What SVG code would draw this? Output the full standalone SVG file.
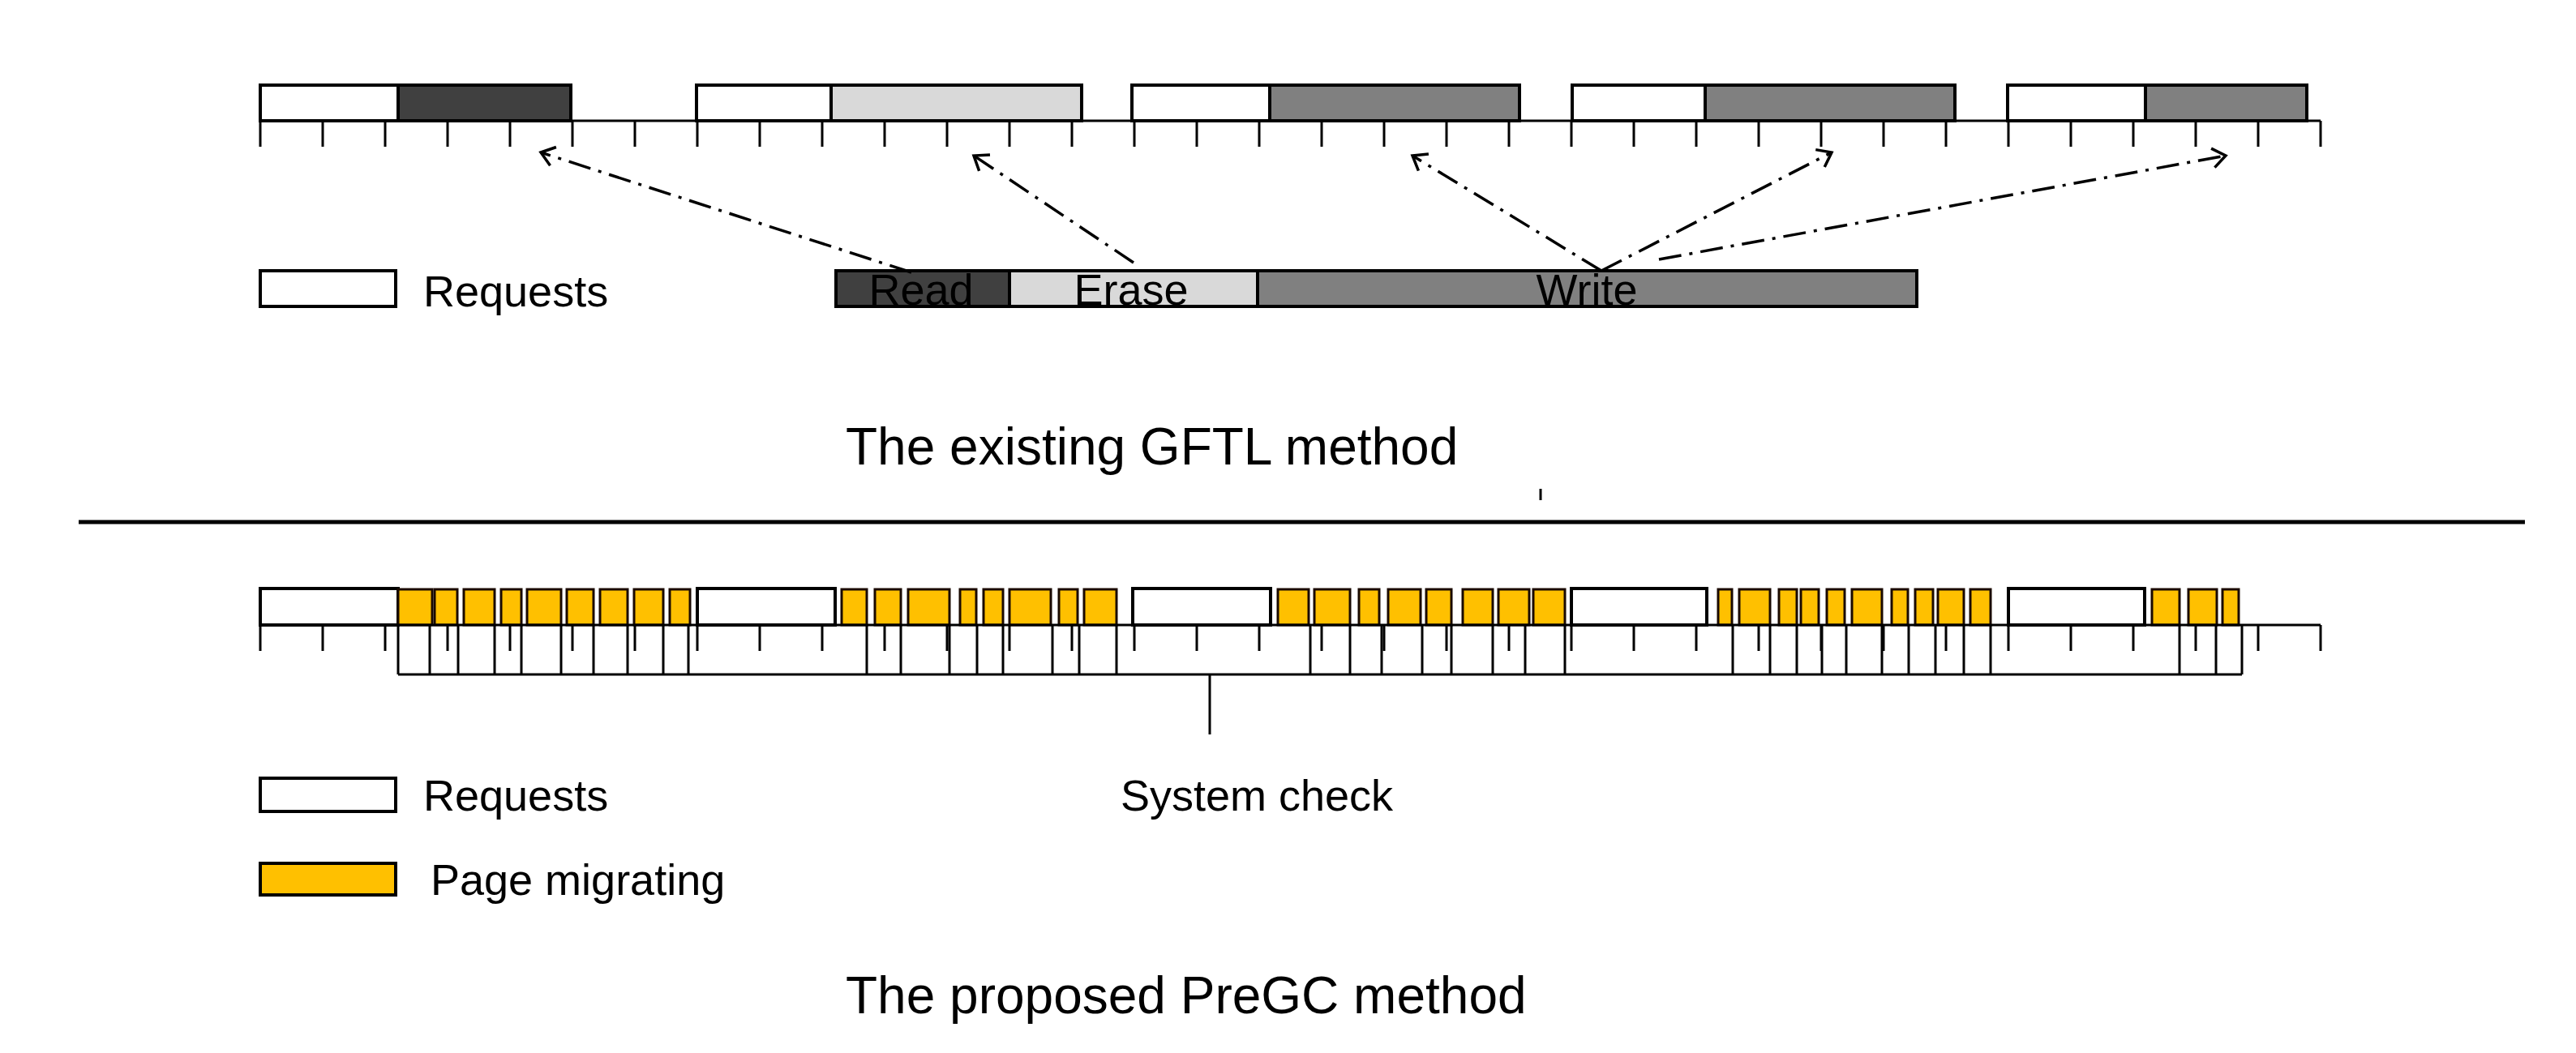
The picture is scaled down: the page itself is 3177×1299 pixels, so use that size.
<svg xmlns="http://www.w3.org/2000/svg" width="3177" height="1299" viewBox="0 0 3177 1299">
<style>
.b{stroke:#000;stroke-width:4}
.t{font-family:"Liberation Sans",Arial,sans-serif;font-size:54px;fill:#000}
.big{font-family:"Liberation Sans",Arial,sans-serif;font-size:64px;fill:#000}
.ln{stroke:#000;stroke-width:3;fill:none}
.y{fill:#ffc000;stroke:#1a0a00;stroke-width:3}
.con{stroke:#000;stroke-width:3.5;fill:none;stroke-dasharray:28 10 4 10}
</style>
<defs>
<marker id="ah" markerUnits="userSpaceOnUse" markerWidth="40" markerHeight="40" refX="20" refY="20" orient="auto" viewBox="0 0 40 40">
<path d="M4,8 L20,20 L4,32" fill="none" stroke="#000" stroke-width="3.5"/>
</marker>
</defs>
<rect width="3177" height="1299" fill="#fff"/>
<g id="top-timeline">
<rect class="b" x="321" y="105" width="170" height="44" fill="#fff"/>
<rect class="b" x="491" y="105" width="213" height="44" fill="#404040"/>
<rect class="b" x="859" y="105" width="166" height="44" fill="#fff"/>
<rect class="b" x="1025" y="105" width="309" height="44" fill="#d9d9d9"/>
<rect class="b" x="1396" y="105" width="170" height="44" fill="#fff"/>
<rect class="b" x="1566" y="105" width="308" height="44" fill="#808080"/>
<rect class="b" x="1939" y="105" width="164" height="44" fill="#fff"/>
<rect class="b" x="2103" y="105" width="308" height="44" fill="#808080"/>
<rect class="b" x="2476" y="105" width="170" height="44" fill="#fff"/>
<rect class="b" x="2646" y="105" width="199" height="44" fill="#808080"/>
<path class="ln" d="M321,149H2862 M321,149V181 M398,149V181 M475,149V181 M552,149V181 M629,149V181 M706,149V181 M783,149V181 M860,149V181 M937,149V181 M1014,149V181 M1091,149V181 M1168,149V181 M1245,149V181 M1322,149V181 M1399,149V181 M1476,149V181 M1553,149V181 M1630,149V181 M1707,149V181 M1784,149V181 M1861,149V181 M1938,149V181 M2015,149V181 M2092,149V181 M2169,149V181 M2246,149V181 M2323,149V181 M2400,149V181 M2477,149V181 M2554,149V181 M2631,149V181 M2708,149V181 M2785,149V181 M2862,149V181"/>
</g>
<g id="legend-top">
<rect class="b" x="321" y="334" width="167" height="44" fill="#fff"/>
<text class="t" x="522" y="378">Requests</text>
</g>
<g id="rew-bar">
<rect class="b" x="1031" y="334" width="214" height="44" fill="#404040"/>
<rect class="b" x="1245" y="334" width="306" height="44" fill="#d9d9d9"/>
<rect class="b" x="1551" y="334" width="813" height="44" fill="#808080"/>
<text class="t" x="1136" y="376" text-anchor="middle">Read</text>
<text class="t" x="1395" y="376" text-anchor="middle">Erase</text>
<text class="t" x="1957" y="376" text-anchor="middle">Write</text>
</g>
<g id="connectors">
<path class="con" d="M1124,336L667,188" marker-end="url(#ah)"/>
<path class="con" d="M1398,324L1201,192" marker-end="url(#ah)"/>
<path class="con" d="M1975,334L1742,192" marker-end="url(#ah)"/>
<path class="con" d="M1975,334L2259,188" marker-end="url(#ah)"/>
<path class="con" d="M2046,320L2745,192" marker-end="url(#ah)"/>
</g>
<text class="big" x="1043" y="573">The existing GFTL method</text>
<path class="ln" d="M1900,603V617"/>
<path d="M97,644H3114" stroke="#000" stroke-width="5"/>
<g id="bottom-timeline">
<rect class="b" x="321" y="726" width="170" height="45" fill="#fff"/>
<rect class="b" x="860" y="726" width="170" height="45" fill="#fff"/>
<rect class="b" x="1397" y="726" width="170" height="45" fill="#fff"/>
<rect class="b" x="1938" y="726" width="167" height="45" fill="#fff"/>
<rect class="b" x="2477" y="726" width="168" height="45" fill="#fff"/>
<g id="migrations">
<rect class="y" x="491" y="727" width="42" height="44" fill="#d9a520"/>
<rect class="y" x="536" y="727" width="28" height="44"/>
<rect class="y" x="572" y="727" width="38" height="44"/>
<rect class="y" x="618" y="727" width="25" height="44"/>
<rect class="y" x="650" y="727" width="42" height="44"/>
<rect class="y" x="699" y="727" width="33" height="44"/>
<rect class="y" x="740" y="727" width="34" height="44"/>
<rect class="y" x="782" y="727" width="36" height="44"/>
<rect class="y" x="826" y="727" width="25" height="44"/>
<rect class="y" x="1038" y="727" width="31" height="44"/>
<rect class="y" x="1079" y="727" width="32" height="44"/>
<rect class="y" x="1120" y="727" width="51" height="44"/>
<rect class="y" x="1184" y="727" width="20" height="44"/>
<rect class="y" x="1213" y="727" width="24" height="44"/>
<rect class="y" x="1245" y="727" width="51" height="44"/>
<rect class="y" x="1306" y="727" width="23" height="44"/>
<rect class="y" x="1337" y="727" width="40" height="44"/>
<rect class="y" x="1576" y="727" width="38" height="44"/>
<rect class="y" x="1621" y="727" width="44" height="44"/>
<rect class="y" x="1676" y="727" width="25" height="44"/>
<rect class="y" x="1712" y="727" width="40" height="44"/>
<rect class="y" x="1759" y="727" width="31" height="44"/>
<rect class="y" x="1804" y="727" width="37" height="44"/>
<rect class="y" x="1848" y="727" width="38" height="44"/>
<rect class="y" x="1891" y="727" width="39" height="44"/>
<rect class="y" x="2119" y="727" width="17" height="44"/>
<rect class="y" x="2145" y="727" width="38" height="44"/>
<rect class="y" x="2194" y="727" width="22" height="44"/>
<rect class="y" x="2221" y="727" width="22" height="44"/>
<rect class="y" x="2253" y="727" width="22" height="44"/>
<rect class="y" x="2284" y="727" width="37" height="44"/>
<rect class="y" x="2333" y="727" width="20" height="44"/>
<rect class="y" x="2362" y="727" width="22" height="44"/>
<rect class="y" x="2390" y="727" width="32" height="44"/>
<rect class="y" x="2430" y="727" width="25" height="44"/>
<rect class="y" x="2654" y="727" width="34" height="44"/>
<rect class="y" x="2699" y="727" width="35" height="44"/>
<rect class="y" x="2741" y="727" width="20" height="44" fill="#d9a520"/>
</g>
<path class="ln" d="M321,771H2862 M321,771V803 M398,771V803 M475,771V803 M552,771V803 M629,771V803 M706,771V803 M783,771V803 M860,771V803 M937,771V803 M1014,771V803 M1091,771V803 M1168,771V803 M1245,771V803 M1322,771V803 M1399,771V803 M1476,771V803 M1553,771V803 M1630,771V803 M1707,771V803 M1784,771V803 M1861,771V803 M1938,771V803 M2015,771V803 M2092,771V803 M2169,771V803 M2246,771V803 M2323,771V803 M2400,771V803 M2477,771V803 M2554,771V803 M2631,771V803 M2708,771V803 M2785,771V803 M2862,771V803"/>
<path class="ln" d="M491,832H2765 M491,771V832 M530,771V832 M565,771V832 M610,771V832 M643,771V832 M692,771V832 M732,771V832 M774,771V832 M818,771V832 M849,771V832 M1069,771V832 M1111,771V832 M1171,771V832 M1205,771V832 M1237,771V832 M1298,771V832 M1331,771V832 M1377,771V832 M1616,771V832 M1665,771V832 M1704,771V832 M1754,771V832 M1790,771V832 M1841,771V832 M1881,771V832 M1930,771V832 M2137,771V832 M2183,771V832 M2216,771V832 M2247,771V832 M2277,771V832 M2321,771V832 M2354,771V832 M2387,771V832 M2422,771V832 M2455,771V832 M2688,771V832 M2733,771V832 M2765,771V832"/>
<path class="ln" d="M1492,832V906"/>
</g>
<g id="system-check">
<text class="t" x="1382" y="1000">System check</text>
</g>
<g id="legend-bottom">
<rect class="b" x="321" y="960" width="167" height="41" fill="#fff"/>
<text class="t" x="522" y="1000">Requests</text>
<rect class="b" x="321" y="1065" width="167" height="39" fill="#ffc000"/>
<text class="t" x="531" y="1104">Page migrating</text>
</g>
<text class="big" x="1043" y="1250">The proposed PreGC method</text>
</svg>
